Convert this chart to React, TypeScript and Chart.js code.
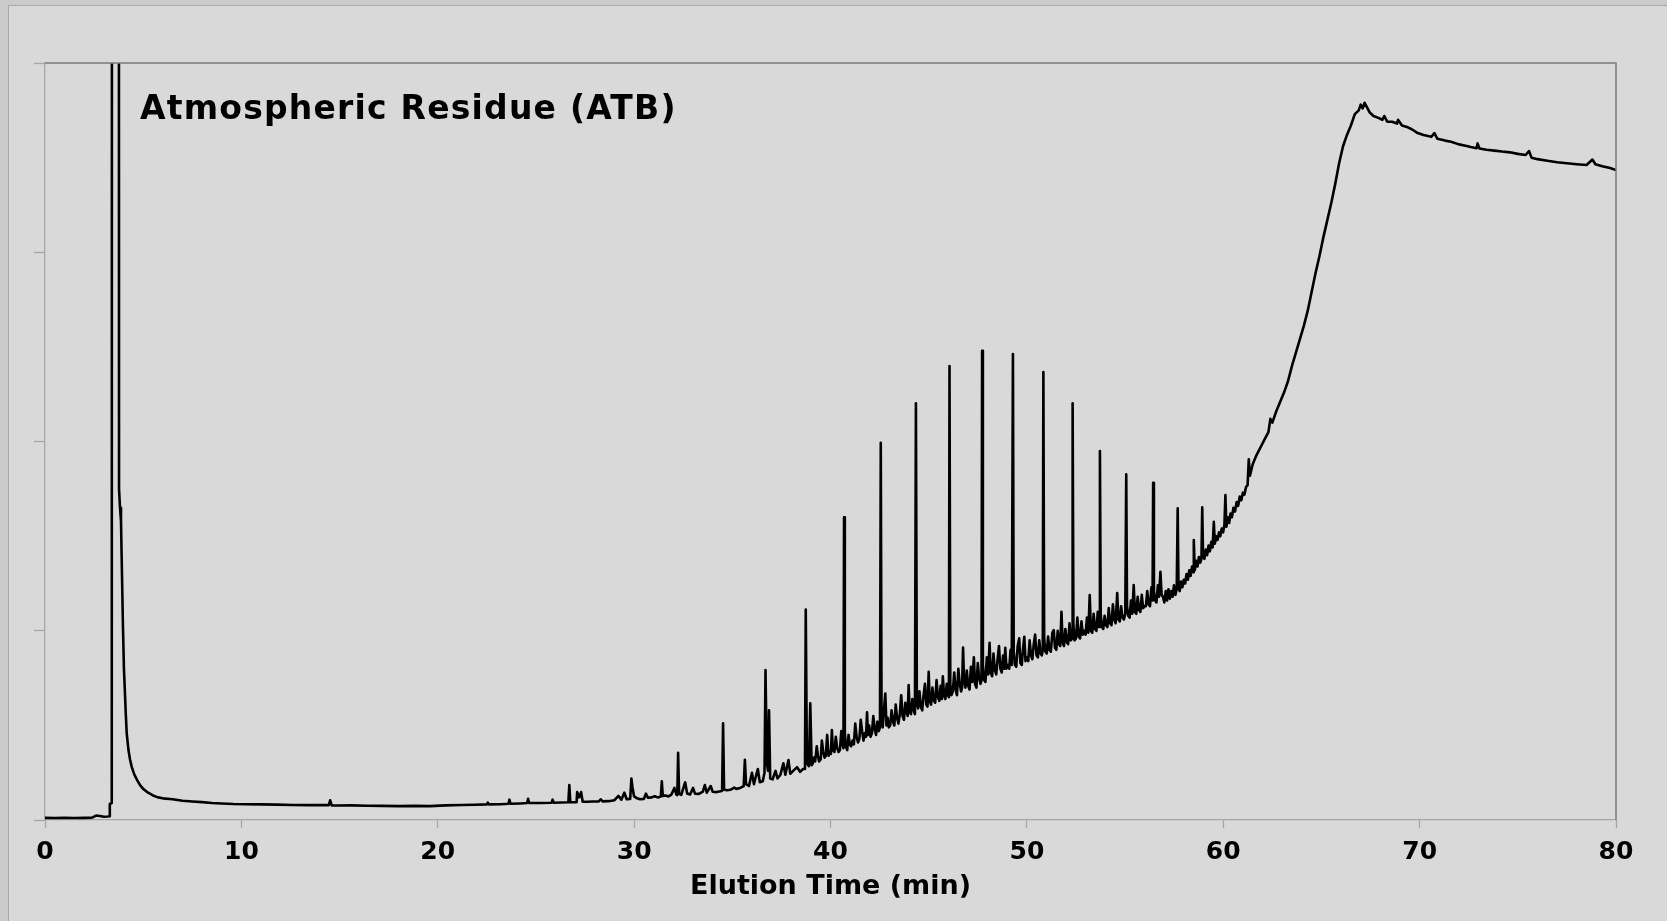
import React, { useEffect, useRef } from "react";
import { Chart, registerables } from "chart.js";

Chart.register(...registerables);

// ---------- data ----------
const chartTitle = "Atmospheric Residue (ATB)";
const xAxisTitle = "Elution Time (min)";
const xTickValues = [0, 10, 20, 30, 40, 50, 60, 70, 80];
const yTickValues = [0, 1, 2, 3, 4];

// solvent peak and flat early baseline
const solventTime = [
  0, 0.5, 1.0, 1.5, 2.0, 2.4, 2.6, 2.8, 3.0, 3.2,
  3.28, 3.3, 3.4, 3.42, 3.75, 3.77, 3.82, 3.87, 3.92, 3.97,
  4.02, 4.06, 4.11, 4.16, 4.25, 4.33, 4.42, 4.55, 4.7, 4.84,
  5.0, 5.25, 5.5, 5.75, 6.0, 6.5, 7.0, 7.5, 8.0, 8.5,
  9.0, 9.6, 10.2, 11.0, 11.8, 12.6, 13.4, 14.2, 14.45, 14.52,
  14.6, 14.9, 15.6, 16.4, 17.2, 18.0, 18.8, 19.6, 20.4, 21.2,
  21.9, 22.5, 22.55, 22.6, 23.2, 23.6, 23.65, 23.7, 24.2, 24.55,
  24.6, 24.65, 25.2, 25.8, 25.85, 25.9,
];
const solventSignal = [
  0.012, 0.011, 0.012, 0.011, 0.012, 0.013, 0.024, 0.022, 0.018, 0.019,
  0.02, 0.085, 0.09, 12, 12, 1.75, 1.65, 1.58, 1.3, 1.02,
  0.8, 0.7, 0.57, 0.46, 0.37, 0.32, 0.28, 0.24, 0.21, 0.185,
  0.165, 0.145, 0.13, 0.12, 0.115, 0.11, 0.102, 0.098, 0.095, 0.09,
  0.088, 0.085, 0.084, 0.083, 0.082, 0.08, 0.079, 0.079, 0.079, 0.105,
  0.078, 0.077, 0.078, 0.076, 0.075, 0.074, 0.075, 0.074, 0.078, 0.08,
  0.081, 0.083, 0.092, 0.083, 0.084, 0.086, 0.108, 0.086, 0.088, 0.09,
  0.113, 0.09, 0.09, 0.092, 0.108, 0.092,
];

// early n-alkane region
const lowBandTime = [
  26.3, 26.65, 26.7, 26.75, 26.9, 27.07, 27.1, 27.2, 27.3, 27.38,
  27.6, 27.9, 28.2, 28.3, 28.4, 28.7, 29.0, 29.2, 29.35, 29.5,
  29.62, 29.8, 29.86, 29.92, 30.0, 30.15, 30.3, 30.5, 30.6, 30.7,
  30.9, 31.05, 31.2, 31.36, 31.41, 31.46, 31.6, 31.75, 31.9, 32.05,
  32.15, 32.2, 32.24, 32.29, 32.4, 32.6, 32.7, 32.85, 33.0, 33.1,
  33.3, 33.5, 33.6, 33.7, 33.9, 34.0, 34.2, 34.4, 34.48, 34.53,
  34.58, 34.75, 34.9, 35.1, 35.2, 35.4, 35.58, 35.64, 35.7, 35.85,
  36.0, 36.1, 36.3, 36.4, 36.55, 36.64, 36.69, 36.76, 36.82, 36.87,
  36.93, 37.05, 37.2, 37.3, 37.45, 37.6, 37.7, 37.86, 37.95, 38.1,
  38.3, 38.45, 38.6, 38.7, 38.74, 38.8, 38.9, 38.97, 39.04,
];
const lowBandSignal = [
  0.093, 0.094, 0.185, 0.095, 0.094, 0.095, 0.148, 0.12, 0.148, 0.097,
  0.097, 0.098, 0.099, 0.11, 0.099, 0.1, 0.105, 0.128, 0.108, 0.145,
  0.11, 0.112, 0.22, 0.17, 0.125, 0.115, 0.11, 0.112, 0.14, 0.118,
  0.12, 0.126, 0.12, 0.125, 0.205, 0.128, 0.13, 0.125, 0.135, 0.17,
  0.135, 0.132, 0.356, 0.14, 0.133, 0.2, 0.14, 0.135, 0.17, 0.14,
  0.138, 0.15, 0.185, 0.145, 0.18, 0.15, 0.148, 0.152, 0.155, 0.512,
  0.16, 0.158, 0.16, 0.172, 0.165, 0.17, 0.18, 0.318, 0.19, 0.18,
  0.25, 0.19, 0.27, 0.2, 0.205, 0.25, 0.793, 0.3, 0.26, 0.58,
  0.22, 0.215, 0.26, 0.22, 0.24, 0.3, 0.24, 0.317, 0.245, 0.26,
  0.28, 0.255, 0.27, 0.27, 1.113, 0.3, 0.285, 0.617, 0.29,
];

// main n-alkane envelope on the rising hump (one line per minute)
const peakBandTime = [
  39.1, 39.16, 39.22, 39.3, 39.36, 39.42, 39.5, 39.56, 39.63, 39.7, 39.76, 39.83, 39.9, 39.96,
  40.02, 40.07, 40.12, 40.2, 40.27, 40.34, 40.41, 40.48, 40.55, 40.62, 40.66, 40.69, 40.73, 40.78, 40.85, 40.92, 40.98,
  41.05, 41.12, 41.19, 41.26, 41.33, 41.4, 41.47, 41.54, 41.61, 41.68, 41.75, 41.81, 41.86, 41.91, 41.97,
  42.04, 42.11, 42.18, 42.25, 42.32, 42.39, 42.46, 42.52, 42.56, 42.6, 42.66, 42.72, 42.79, 42.85, 42.91, 42.97,
  43.04, 43.11, 43.18, 43.25, 43.32, 43.39, 43.46, 43.53, 43.6, 43.67, 43.74, 43.81, 43.88, 43.93, 43.98,
  44.03, 44.1, 44.17, 44.24, 44.3, 44.35, 44.4, 44.46, 44.53, 44.6, 44.67, 44.74, 44.81, 44.88, 44.94, 45.0,
  45.05, 45.12, 45.19, 45.26, 45.33, 45.4, 45.47, 45.54, 45.61, 45.67, 45.72, 45.78, 45.85, 45.92, 45.98, 46.03, 46.06,
  46.1, 46.16, 46.23, 46.3, 46.37, 46.44, 46.51, 46.58, 46.65, 46.7, 46.75, 46.8, 46.87, 46.94,
  47.01, 47.08, 47.15, 47.22, 47.3, 47.36, 47.43, 47.5, 47.57, 47.64, 47.69, 47.72, 47.76, 47.82, 47.89, 47.96,
  48.03, 48.1, 48.16, 48.23, 48.3, 48.37, 48.44, 48.51, 48.58, 48.65, 48.72, 48.79, 48.85, 48.9, 48.96,
  49.03, 49.1, 49.17, 49.23, 49.29, 49.33, 49.39, 49.46, 49.53, 49.61, 49.67, 49.74, 49.8, 49.87, 49.93,
  50.0, 50.07, 50.14, 50.21, 50.28, 50.35, 50.42, 50.49, 50.56, 50.63, 50.7, 50.76, 50.81, 50.84, 50.88, 50.94,
  51.01, 51.08, 51.15, 51.22, 51.3, 51.37, 51.43, 51.5, 51.57, 51.64, 51.7, 51.76, 51.82, 51.89, 51.96,
  52.03, 52.1, 52.17, 52.24, 52.3, 52.33, 52.37, 52.43, 52.5, 52.57, 52.64, 52.71, 52.78, 52.85, 52.92,
  52.99, 53.06, 53.13, 53.2, 53.26, 53.33, 53.4, 53.47, 53.54, 53.61, 53.68, 53.72, 53.76, 53.82, 53.89, 53.96,
  54.03, 54.1, 54.17, 54.24, 54.31, 54.38, 54.45, 54.52, 54.6, 54.66, 54.73, 54.8, 54.87, 54.94, 55.01,
  55.06, 55.1, 55.16, 55.23, 55.3, 55.37, 55.44, 55.5, 55.57, 55.64, 55.71, 55.78, 55.85, 55.92, 55.99,
  56.06, 56.13, 56.2, 56.27, 56.34, 56.4, 56.43, 56.47, 56.53, 56.6, 56.67, 56.73, 56.8, 56.86, 56.93,
  57.0, 57.07, 57.14, 57.21, 57.28, 57.35, 57.42, 57.49, 57.56, 57.63, 57.68, 57.72, 57.78, 57.85, 57.92,
  57.99, 58.06, 58.13, 58.2, 58.27, 58.34, 58.41, 58.47, 58.5, 58.55, 58.62, 58.69, 58.76, 58.83, 58.89, 58.93, 58.97,
  59.04, 59.11, 59.18, 59.25, 59.32, 59.39, 59.46, 59.52, 59.57, 59.64, 59.71, 59.78, 59.85, 59.92, 59.99,
  60.06, 60.11, 60.16, 60.23, 60.3, 60.37, 60.44, 60.52, 60.6, 60.68, 60.76, 60.84, 60.92, 61.0,
  61.08, 61.16, 61.24, 61.3, 61.36,
];
const peakBandSignal = [
  0.3, 0.33, 0.31, 0.39, 0.34, 0.31, 0.32, 0.42, 0.36, 0.33, 0.34, 0.45, 0.34, 0.36,
  0.35, 0.476, 0.37, 0.36, 0.44, 0.38, 0.36, 0.37, 0.47, 0.4, 0.38, 1.6, 0.46, 0.39, 0.37, 0.45, 0.4,
  0.39, 0.42, 0.4, 0.51, 0.44, 0.41, 0.43, 0.53, 0.47, 0.42, 0.46, 0.44, 0.57, 0.45, 0.5,
  0.44, 0.46, 0.55, 0.48, 0.45, 0.52, 0.47, 0.49, 1.994, 0.55, 0.49, 0.58, 0.669, 0.5, 0.54, 0.49,
  0.5, 0.58, 0.52, 0.5, 0.61, 0.54, 0.51, 0.56, 0.66, 0.55, 0.53, 0.62, 0.57, 0.55, 0.713,
  0.57, 0.56, 0.64, 0.58, 0.56, 2.202, 0.62, 0.59, 0.68, 0.6, 0.58, 0.66, 0.72, 0.61, 0.6, 0.784,
  0.63, 0.61, 0.7, 0.63, 0.62, 0.74, 0.65, 0.63, 0.71, 0.64, 0.76, 0.66, 0.64, 0.72, 0.66, 0.65, 2.399,
  0.72, 0.66, 0.68, 0.78, 0.69, 0.66, 0.8, 0.72, 0.68, 0.7, 0.912, 0.74, 0.7, 0.79,
  0.71, 0.69, 0.81, 0.73, 0.86, 0.72, 0.7, 0.83, 0.75, 0.72, 0.74, 2.48, 0.82, 0.74, 0.73, 0.86,
  0.77, 0.937, 0.78, 0.76, 0.88, 0.79, 0.77, 0.85, 0.92, 0.8, 0.78, 0.87, 0.8, 0.91, 0.8,
  0.82, 0.8, 0.9, 0.82, 2.462, 0.89, 0.82, 0.81, 0.92, 0.96, 0.83, 0.82, 0.9, 0.969, 0.84,
  0.86, 0.84, 0.95, 0.87, 0.85, 0.93, 0.98, 0.87, 0.86, 0.95, 0.88, 0.87, 0.9, 2.367, 0.96, 0.89,
  0.88, 0.97, 0.9, 0.89, 0.99, 1.004, 0.91, 0.9, 1.0, 0.93, 0.92, 1.1, 0.94, 0.92, 1.01,
  0.94, 0.93, 1.04, 0.95, 0.96, 2.202, 1.03, 0.95, 0.96, 1.07, 0.97, 0.96, 1.05, 0.98, 1.0,
  0.98, 1.07, 0.99, 1.189, 1.0, 0.99, 1.09, 1.01, 1.0, 1.1, 1.02, 1.95, 1.09, 1.02, 1.01, 1.08,
  1.03, 1.02, 1.12, 1.04, 1.03, 1.14, 1.06, 1.04, 1.2, 1.06, 1.05, 1.13, 1.07, 1.06, 1.09,
  1.827, 1.13, 1.08, 1.07, 1.16, 1.09, 1.242, 1.1, 1.09, 1.18, 1.11, 1.1, 1.19, 1.12, 1.13,
  1.13, 1.21, 1.14, 1.13, 1.23, 1.16, 1.782, 1.21, 1.16, 1.15, 1.24, 1.18, 1.312, 1.19, 1.18,
  1.15, 1.21, 1.16, 1.22, 1.17, 1.21, 1.18, 1.24, 1.19, 1.22, 1.647, 1.24, 1.21, 1.26, 1.23,
  1.27, 1.25, 1.3, 1.27, 1.32, 1.29, 1.34, 1.31, 1.479, 1.32, 1.37, 1.34, 1.39, 1.36, 1.38, 1.652, 1.4,
  1.38, 1.43, 1.4, 1.45, 1.42, 1.47, 1.44, 1.576, 1.46, 1.5, 1.48, 1.52, 1.5, 1.54, 1.52,
  1.56, 1.717, 1.55, 1.6, 1.57, 1.62, 1.6, 1.65, 1.63, 1.68, 1.66, 1.71, 1.69, 1.73,
  1.72, 1.76, 1.77, 1.906, 1.82,
];

// unresolved hump and late plateau
const humpTime = [
  61.5, 61.7, 61.9, 62.1, 62.3, 62.4, 62.5, 62.7, 62.9, 63.1,
  63.3, 63.5, 63.7, 63.9, 64.1, 64.3, 64.5, 64.7, 64.9, 65.1,
  65.3, 65.5, 65.7, 65.9, 66.1, 66.3, 66.5, 66.7, 66.9, 67.0,
  67.1, 67.2, 67.3, 67.45, 67.65, 67.9, 68.1, 68.2, 68.35, 68.6,
  68.85, 68.9, 69.1, 69.4, 69.6, 69.9, 70.2, 70.6, 70.75, 70.9,
  71.3, 71.6, 72.0, 72.4, 72.6, 72.9, 72.95, 73.05, 73.4, 73.8,
  74.2, 74.6, 75.0, 75.4, 75.57, 75.7, 76.0, 76.5, 77.0, 77.5,
  78.0, 78.5, 78.8, 78.95, 79.3, 79.7, 80.0,
];
const humpSignal = [
  1.88, 1.93, 1.97, 2.01, 2.05, 2.12, 2.1, 2.16, 2.21, 2.26,
  2.32, 2.4, 2.47, 2.54, 2.61, 2.69, 2.79, 2.89, 2.98, 3.08,
  3.17, 3.26, 3.36, 3.47, 3.56, 3.62, 3.67, 3.73, 3.75, 3.78,
  3.76, 3.79, 3.77, 3.74, 3.72, 3.71, 3.7, 3.72, 3.69, 3.69,
  3.68, 3.7, 3.67, 3.66, 3.65, 3.63, 3.62, 3.61, 3.63, 3.6,
  3.59, 3.584, 3.57, 3.562, 3.556, 3.55, 3.575, 3.548, 3.542, 3.537,
  3.532, 3.528, 3.52, 3.514, 3.535, 3.5, 3.492, 3.484, 3.476, 3.47,
  3.465, 3.461, 3.49, 3.465, 3.455, 3.445, 3.434,
];

// ---------- chart ----------
const FONT = '"DejaVu Sans", "Liberation Sans", Arial, sans-serif';

const framePlugin = {
  id: "plotFrame",
  afterDraw(chart: any) {
    const { ctx, chartArea } = chart;
    const { left, top, right, bottom } = chartArea;
    ctx.save();
    ctx.strokeStyle = "#7a7a7a";
    ctx.lineWidth = 1.5;
    ctx.beginPath();
    ctx.moveTo(left, top);
    ctx.lineTo(right, top);
    ctx.lineTo(right, bottom);
    ctx.stroke();
    ctx.restore();
  },
};

const innerTitlePlugin = {
  id: "innerTitle",
  afterDatasetsDraw(chart: any, _args: any, opts: any) {
    const { ctx, chartArea } = chart;
    ctx.save();
    ctx.font = `bold ${opts.size}px ${FONT}`;
    try {
      (ctx as any).letterSpacing = opts.spacing;
    } catch (e) {
      /* ignore */
    }
    ctx.fillStyle = "#000";
    ctx.textAlign = "left";
    ctx.textBaseline = "alphabetic";
    ctx.fillText(opts.text, chartArea.left + opts.dx, chartArea.top + opts.dy);
    ctx.restore();
  },
};

function buildPoints(times: number[], values: number[]) {
  return times.map((t, i) => ({ x: t, y: values[i] }));
}

export default function App() {
  const canvasRef = useRef<HTMLCanvasElement | null>(null);

  useEffect(() => {
    const canvas = canvasRef.current;
    if (!canvas) return;
    const points = [
      ...buildPoints(solventTime, solventSignal),
      ...buildPoints(lowBandTime, lowBandSignal),
      ...buildPoints(peakBandTime, peakBandSignal),
      ...buildPoints(humpTime, humpSignal),
    ];
    const chart = new Chart(canvas, {
      type: "line",
      data: {
        datasets: [
          {
            label: chartTitle,
            data: points,
            borderColor: "#000000",
            borderWidth: 2.6,
            pointRadius: 0,
            tension: 0,
            fill: false,
            borderJoinStyle: "round",
          } as any,
        ],
      },
      options: {
        responsive: false,
        devicePixelRatio: 1,
        animation: false,
        layout: { padding: { left: 34, right: 51, top: 63, bottom: 18 } },
        plugins: {
          legend: { display: false },
          tooltip: { enabled: false },
          title: { display: false },
          innerTitle: { text: chartTitle, size: 33, dx: 95, dy: 56, spacing: "1.2px" },
        } as any,
        scales: {
          x: {
            type: "linear",
            min: 0,
            max: 80,
            afterBuildTicks: (axis: any) => {
              axis.ticks = xTickValues.map((v) => ({ value: v }));
            },
            ticks: {
              color: "#000",
              padding: 9.2,
              maxRotation: 0,
              autoSkip: false,
              font: { family: FONT, weight: "bold", size: 25 },
            },
            grid: {
              drawOnChartArea: false,
              drawTicks: true,
              tickLength: 8,
              tickColor: "#a6a6a6",
              tickWidth: 1.3,
            },
            border: { display: true, color: "#a6a6a6", width: 1.3 },
            title: {
              display: true,
              text: xAxisTitle,
              color: "#000",
              padding: { top: -5.9, bottom: 0 },
              font: { family: FONT, weight: "bold", size: 27 },
            },
          },
          y: {
            type: "linear",
            min: 0,
            max: 4,
            afterBuildTicks: (axis: any) => {
              axis.ticks = yTickValues.map((v) => ({ value: v }));
            },
            ticks: { display: false },
            grid: {
              drawOnChartArea: false,
              drawTicks: true,
              tickLength: 11,
              tickColor: "#a6a6a6",
              tickWidth: 1.3,
            },
            border: { display: true, color: "#a6a6a6", width: 1.3 },
          },
        },
      } as any,
      plugins: [framePlugin, innerTitlePlugin],
    });
    return () => chart.destroy();
  }, []);

  return (
    <div
      style={{
        position: "fixed",
        left: 0,
        top: 0,
        width: 1667,
        height: 921,
        background: "#cbcbcb",
        overflow: "hidden",
      }}
    >
      <div
        style={{
          position: "absolute",
          left: 8,
          top: 5,
          right: 0,
          bottom: 0,
          background: "#d9d9d9",
          borderLeft: "1px solid #a9a9a9",
          borderTop: "1px solid #a9a9a9",
        }}
      />
      <canvas
        ref={canvasRef}
        width={1667}
        height={921}
        style={{ position: "absolute", left: 0, top: 0, display: "block" }}
      />
    </div>
  );
}
